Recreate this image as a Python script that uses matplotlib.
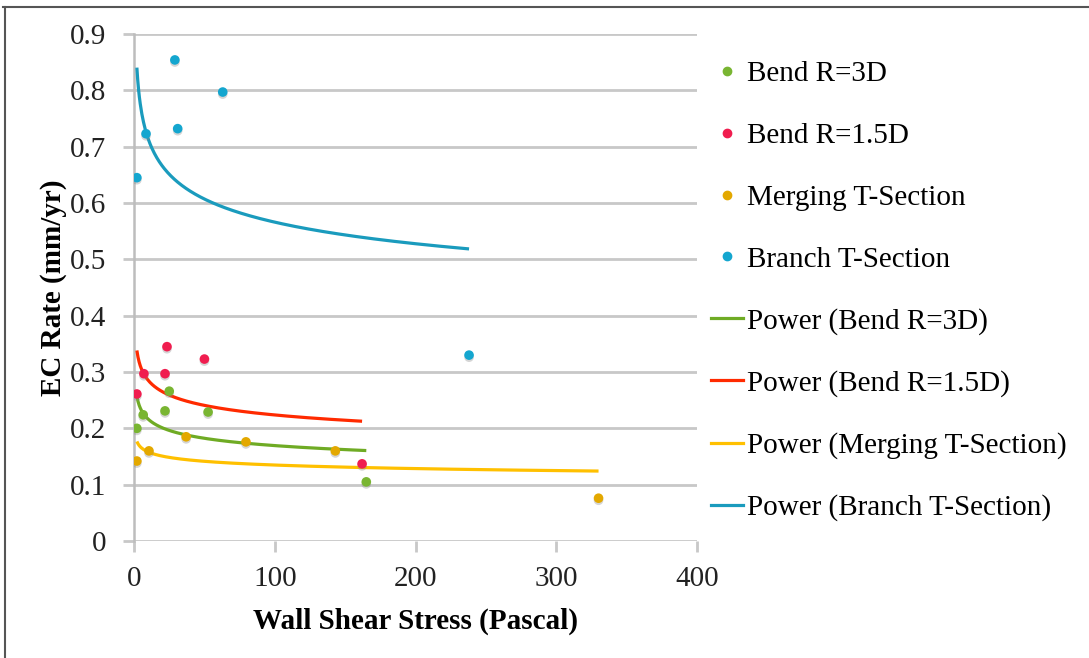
import numpy as np
import matplotlib
matplotlib.use("Agg")
import matplotlib.pyplot as plt
import matplotlib.patheffects as pe
from matplotlib.lines import Line2D
from matplotlib.ticker import FuncFormatter

# wall shear stress (Pa) vs erosion-corrosion rate (mm/yr)
bend3d_x = [2.0, 6.5, 22.0, 25.0, 52.6, 165.0]
bend3d_y = [0.200, 0.224, 0.231, 0.266, 0.229, 0.105]

bend15d_x = [2.0, 7.0, 22.0, 23.4, 50.0, 162.0]
bend15d_y = [0.261, 0.297, 0.297, 0.345, 0.323, 0.137]

merging_x = [2.0, 10.6, 37.0, 79.5, 143.0, 330.0]
merging_y = [0.142, 0.160, 0.185, 0.176, 0.160, 0.076]

branch_x = [2.0, 8.5, 29.0, 31.0, 63.0, 238.0]
branch_y = [0.645, 0.723, 0.854, 0.732, 0.797, 0.330]

series_names = ["Bend R=3D", "Bend R=1.5D", "Merging T-Section", "Branch T-Section"]
point_colors = ["#79b532", "#f01d4f", "#e3a800", "#14a6cf"]
line_colors = ["#6fab24", "#ff2a00", "#ffc000", "#1a9bbd"]

data = [(bend3d_x, bend3d_y), (bend15d_x, bend15d_y),
        (merging_x, merging_y), (branch_x, branch_y)]

plt.rcParams['font.family'] = ['Liberation Serif', 'DejaVu Serif']
FS = 21

fig = plt.figure(figsize=(10.89, 6.58), dpi=100)
ax = fig.add_axes([0.1231, 0.1778, 0.517, 0.7705])

shadow = [pe.SimplePatchShadow(offset=(0, -1.5), shadow_rgbFace='#888888', alpha=0.35), pe.Normal()]

# power trendlines y = a * x^b, fitted in log space
for (xs, ys), c in zip(data, line_colors):
    b, ln_a = np.polyfit(np.log(xs), np.log(ys), 1)
    xf = np.linspace(min(xs), max(xs), 400)
    ax.plot(xf, np.exp(ln_a) * xf ** b, color=c, lw=2.3, zorder=3, solid_capstyle='butt')

for (xs, ys), c in zip(data, point_colors):
    ax.scatter(xs, ys, s=48, color=c, edgecolors='none', zorder=4, path_effects=shadow)

ax.set_xlim(0, 400)
ax.set_ylim(0, 0.9)
ax.set_xticks(np.arange(0, 401, 100))
ax.set_yticks(np.arange(0, 0.91, 0.1))
ax.yaxis.set_major_formatter(FuncFormatter(lambda v, p: "0" if abs(v) < 1e-9 else f"{v:.1f}"))

ax.grid(axis='y', color='#c8c8c8', lw=2)
ax.set_axisbelow(True)
for s in ['top', 'right', 'bottom']:
    ax.spines[s].set_visible(False)
ax.spines['left'].set_color('#bdbdbd')
ax.spines['left'].set_linewidth(1.8)
ax.tick_params(axis='y', length=8, width=2, color='#c8c8c8', labelsize=FS, pad=12, labelcolor='#222222')
ax.tick_params(axis='x', length=8, width=2, color='#c8c8c8', labelsize=FS, pad=10, labelcolor='#222222')

ax.set_xlabel("Wall Shear Stress (Pascal)", fontsize=FS, fontweight='bold', labelpad=11)
ax.set_ylabel("EC Rate (mm/yr)", fontsize=FS, fontweight='bold', labelpad=2)

handles = []
labels = []
for name, c in zip(series_names, point_colors):
    handles.append(Line2D([], [], ls='none', marker='o', ms=6, color=c))
    labels.append(name)
for name, c in zip(series_names, line_colors):
    handles.append(Line2D([], [], color=c, lw=2.3))
    labels.append(f"Power ({name})")

fig.legend(handles, labels, loc='upper left', bbox_to_anchor=(711 / 1089, 1 - 61 / 658),
           frameon=False, fontsize=FS, handlelength=1.1, handletextpad=0.15,
           labelspacing=1.21, borderpad=0, borderaxespad=0)

# outer frame of the chart object
fig.add_artist(Line2D([3 / 1089, 1], [1 - 7 / 658, 1 - 7 / 658], color='#555555', lw=1.5))
fig.add_artist(Line2D([5 / 1089, 5 / 1089], [0, 1 - 7 / 658], color='#555555', lw=1.5))

fig.savefig("out.png", dpi=100)
